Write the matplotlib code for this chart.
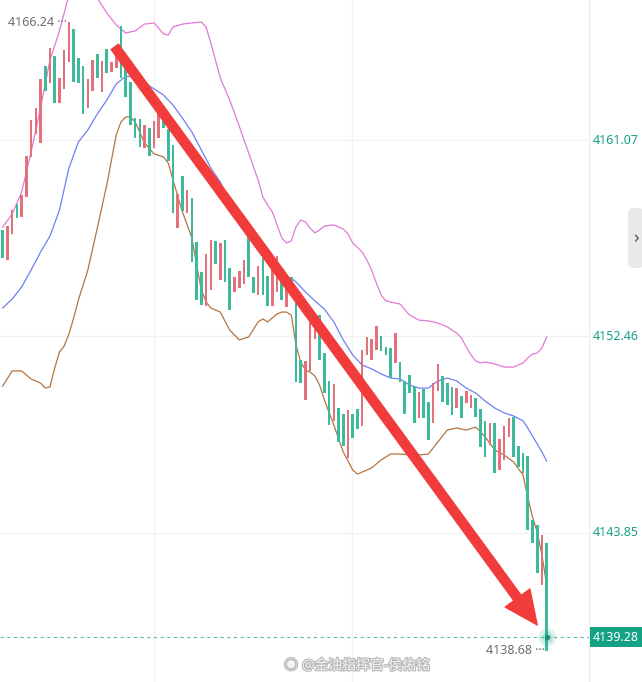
import numpy as np
import matplotlib
matplotlib.use("Agg")
import matplotlib.pyplot as plt
from matplotlib.patches import FancyArrowPatch, FancyBboxPatch
import matplotlib.patheffects as pe

plt.rcParams['font.family'] = ['Noto Sans', 'Noto Sans CJK SC', 'DejaVu Sans']

# ---- data ------------------------------------------------------------------
# candle tops / bottoms, one per bar
highs = [4157.13, 4157.30, 4158.00, 4158.27, 4158.66, 4160.37, 4161.95, 4162.47, 4163.74, 4164.31,
         4165.10, 4164.75, 4163.79, 4165.01, 4166.24, 4165.93, 4164.66, 4164.31, 4163.74, 4164.58,
         4164.84, 4164.53, 4165.06, 4164.49, 4165.15, 4166.07, 4164.58, 4163.61, 4162.03, 4161.99,
         4161.73, 4161.60, 4161.90, 4162.78, 4162.56, 4161.55, 4160.85, 4158.70, 4159.49, 4158.88,
         4158.53, 4156.60, 4155.29, 4156.08, 4156.69, 4156.64, 4156.56, 4156.69, 4155.46, 4155.07,
         4155.33, 4155.81, 4156.82, 4155.07, 4155.55, 4155.90, 4155.11, 4155.51, 4155.99, 4155.07,
         4155.07, 4155.07, 4154.19, 4151.43, 4151.39, 4153.10, 4152.92, 4153.40, 4151.74, 4150.51,
         4150.38, 4149.33, 4149.06, 4149.24, 4149.06, 4149.28, 4151.87, 4152.44, 4152.35, 4152.92,
         4152.48, 4152.00, 4151.96, 4152.61, 4151.34, 4150.51, 4150.77, 4150.25, 4150.03, 4150.16,
         4149.59, 4150.42, 4151.26, 4150.73, 4150.42, 4150.25, 4150.20, 4149.85, 4150.07, 4149.90,
         4149.77, 4149.28, 4148.76, 4148.67, 4148.67, 4147.97, 4148.54, 4148.89, 4148.93, 4147.66,
         4147.36, 4147.22, 4144.42, 4144.20, 4143.76, 4143.41]
lows = [4155.90, 4155.81, 4156.95, 4157.65, 4157.70, 4158.57, 4160.33, 4161.33, 4160.94, 4163.22,
        4163.57, 4162.69, 4162.69, 4163.31, 4164.49, 4163.61, 4163.57, 4162.21, 4162.47, 4163.22,
        4163.79, 4163.17, 4164.01, 4164.05, 4164.23, 4163.79, 4162.95, 4161.73, 4161.16, 4160.76,
        4160.72, 4160.37, 4160.72, 4161.16, 4161.60, 4160.15, 4157.87, 4157.21, 4157.96, 4157.87,
        4155.72, 4154.06, 4153.84, 4153.80, 4154.50, 4155.64, 4154.94, 4154.85, 4153.62, 4154.41,
        4154.59, 4154.76, 4155.07, 4154.37, 4154.28, 4154.28, 4153.80, 4153.80, 4154.41, 4154.06,
        4153.75, 4154.28, 4150.47, 4150.42, 4149.68, 4150.95, 4152.35, 4151.43, 4149.98, 4148.58,
        4148.76, 4147.84, 4147.66, 4147.14, 4148.01, 4148.41, 4148.54, 4151.65, 4151.43, 4151.87,
        4151.82, 4151.65, 4150.64, 4151.30, 4150.47, 4149.06, 4149.98, 4148.67, 4148.89, 4148.89,
        4147.92, 4148.67, 4150.07, 4149.59, 4149.46, 4149.02, 4149.33, 4148.89, 4149.55, 4149.33,
        4148.93, 4147.62, 4147.18, 4147.71, 4146.48, 4146.61, 4147.05, 4148.06, 4147.18, 4146.74,
        4146.48, 4143.98, 4143.41, 4142.10, 4141.57, 4138.68]
# R = rising (red), G = falling (green)
direction = ("GRRGRRRRRG" "RGRRRGGGRR" "GRGRRGGGGG" "RGRRGGGRGR" "GGGRRGRGGR"
             "RRGGRGGRRG" "RGGGRRRGGG" "RGGRGGRRRR" "GGGRGGGGRG" "GRRGGGRGRR"
             "GGGRGRRRGG" "GGGGRG")

# bollinger bands, sampled at bar numbers
upper_idx = [0, 2, 4, 6, 8, 10, 12, 14, 16, 18, 20, 22, 24, 26, 28, 30, 32, 34, 35, 36, 38, 40,
             42, 43, 44, 46, 48, 50, 52, 54, 55, 56, 57, 58, 59, 60, 61, 62, 63, 64, 65, 66, 67,
             68, 70, 72, 73, 74, 76, 77, 78, 79, 80, 81, 82, 84, 86, 88, 90, 92, 94, 96, 97, 98,
             99, 100, 101, 102, 104, 106, 108, 110, 111, 112, 113, 114, 115]
upper_val = [4157.26, 4157.83, 4158.79, 4160.54, 4162.47, 4164.58, 4165.85, 4167.42, 4168.30,
             4168.08, 4167.29, 4166.64, 4166.11, 4165.76, 4165.85, 4166.15, 4166.20, 4165.72,
             4165.67, 4166.02, 4166.15, 4166.20, 4166.24, 4166.02, 4165.32, 4163.79, 4162.82,
             4161.68, 4160.50, 4159.32, 4158.57, 4158.22, 4157.92, 4157.35, 4156.78, 4156.56,
             4156.64, 4157.26, 4157.56, 4157.48, 4157.21, 4157.00, 4157.13, 4157.30, 4157.35,
             4157.17, 4156.95, 4156.56, 4156.16, 4155.81, 4155.37, 4154.80, 4154.28, 4154.02,
             4153.97, 4153.88, 4153.40, 4153.18, 4153.14, 4153.05, 4152.88, 4152.61, 4152.39,
             4152.00, 4151.65, 4151.39, 4151.30, 4151.34, 4151.26, 4151.12, 4151.12, 4151.30,
             4151.52, 4151.69, 4151.74, 4151.96, 4152.44]

mid_idx = [0, 2, 4, 6, 8, 10, 12, 14, 16, 18, 20, 22, 24, 26, 28, 30, 32, 34, 36, 38, 40, 42,
           44, 46, 48, 50, 52, 54, 56, 58, 60, 61, 62, 64, 66, 68, 70, 72, 74, 76, 78, 80, 82,
           84, 86, 88, 90, 92, 94, 96, 98, 100, 102, 104, 106, 108, 110, 111, 112, 113, 114, 115]
mid_val = [4153.71, 4154.10, 4154.63, 4155.37, 4156.16, 4156.86, 4158.00, 4159.84, 4160.98,
           4161.51, 4162.21, 4162.82, 4163.52, 4163.87, 4163.83, 4163.57, 4163.31, 4163.04,
           4162.60, 4162.03, 4161.42, 4160.63, 4159.84, 4159.23, 4158.22, 4157.56, 4156.82,
           4156.34, 4155.72, 4155.37, 4155.07, 4155.02, 4154.85, 4154.41, 4154.02, 4153.66,
           4153.10, 4152.31, 4151.65, 4151.21, 4151.04, 4150.82, 4150.64, 4150.60, 4150.33,
           4150.20, 4150.20, 4150.51, 4150.64, 4150.51, 4150.20, 4149.98, 4149.63, 4149.33,
           4149.11, 4148.98, 4148.76, 4148.45, 4148.10, 4147.75, 4147.40, 4147.00]

lower_idx = [0, 2, 4, 6, 8, 9, 10, 11, 12, 13, 14, 15, 16, 18, 20, 22, 24, 25, 26, 27, 28, 30,
             32, 34, 35, 36, 38, 40, 41, 42, 43, 44, 46, 48, 50, 52, 54, 55, 56, 58, 59, 60, 61,
             62, 63, 64, 65, 66, 67, 68, 70, 72, 74, 75, 76, 78, 80, 82, 84, 86, 88, 90, 92, 94,
             96, 98, 100, 102, 104, 106, 108, 110, 111, 112, 113, 114, 115]
lower_val = [4150.29, 4150.95, 4150.95, 4150.60, 4150.42, 4150.20, 4150.25, 4151.08, 4151.78,
             4152.04, 4152.57, 4153.27, 4154.06, 4155.37, 4157.21, 4159.10, 4161.29, 4161.86,
             4162.08, 4162.08, 4161.86, 4160.94, 4160.46, 4160.33, 4160.06, 4159.32, 4157.92,
             4156.78, 4155.59, 4154.50, 4153.97, 4153.71, 4153.53, 4152.74, 4152.31, 4152.44,
             4153.10, 4153.23, 4153.10, 4153.45, 4153.53, 4153.53, 4153.40, 4152.09, 4151.34,
             4150.99, 4150.90, 4150.73, 4150.33, 4149.68, 4148.58, 4147.40, 4146.61, 4146.43,
             4146.52, 4146.70, 4147.05, 4147.31, 4147.31, 4147.27, 4147.27, 4147.31, 4147.84,
             4148.36, 4148.45, 4148.36, 4148.49, 4148.06, 4147.49, 4147.27, 4146.96, 4146.39,
             4145.43, 4144.55, 4143.89, 4142.89, 4141.57]

axis_ticks = [4161.07, 4152.46, 4143.85]
last_price = 4139.28
high_mark = 4166.24
low_mark = 4138.68
arrow_from = (23.7, 4165.15)
arrow_to = (113.0, 4139.82)
watermark = "@金油指挥官-侯佑铭"

UP_C = "#e3707a"
DOWN_C = "#3dba9c"
TEAL = "#17a085"

# ---- figure ------------------------------------------------------------------
fig = plt.figure(figsize=(6.42, 6.82), dpi=100)
ax = fig.add_axes([0, 0, 589 / 642, 1])
ax.set_xlim(-0.57, 123.95)
ax.set_ylim(4137.32, 4167.205)

for s in ["top", "left", "bottom"]:
    ax.spines[s].set_visible(False)
ax.spines["right"].set_color("#ececec")
ax.set_xticks([])
ax.set_yticks([])

# grid
for t in axis_ticks:
    ax.axhline(t, color="#f1f1f4", lw=1, zorder=0)
for gx in [32, 73.85]:
    ax.axvline(gx, color="#f3f3f5", lw=1, zorder=0)

# bands
ax.plot(upper_idx, upper_val, color="#e07ad6", lw=0.9, zorder=2)
ax.plot(mid_idx, mid_val, color="#6f80f2", lw=0.9, zorder=2)
ax.plot(lower_idx, lower_val, color="#b5743f", lw=0.9, zorder=2)

# candles
idx = np.arange(len(highs))
h = np.array(highs)
l = np.array(lows)
cols = [UP_C if d == "R" else DOWN_C for d in direction]
ax.bar(idx, h - l, bottom=l, width=0.55, color=cols, zorder=3)

# last price line and dot
ax.axhline(last_price, color=TEAL, lw=0.8, ls=(0, (3, 3)), alpha=0.7, zorder=1)
ax.scatter([idx[-1]], [last_price], s=160, color=TEAL, alpha=0.15, lw=0, zorder=5)
ax.scatter([idx[-1]], [last_price], s=60, color=TEAL, alpha=0.2, lw=0, zorder=5)
ax.scatter([idx[-1]], [last_price], s=14, color="#0f8f74", lw=0, zorder=6)

# high / low labels
ax.text(14 - 0.4, high_mark, f"{high_mark:.2f} \u00b7\u00b7\u00b7", ha="right", va="center",
        fontsize=9, color="#6d6d6d", zorder=4)
ax.text(115 - 0.4, low_mark, f"{low_mark:.2f} \u00b7\u00b7\u00b7", ha="right", va="center",
        fontsize=9, color="#6d6d6d", zorder=4)

# big red arrow
arr = FancyArrowPatch(arrow_from, arrow_to, arrowstyle="simple,head_width=22,head_length=24,tail_width=6.5",
                      mutation_scale=1, color="#f23b3b", shrinkA=0, shrinkB=0, zorder=7)
ax.add_patch(arr)

# right price axis
ytr = ax.get_yaxis_transform()
for t in axis_ticks:
    ax.text(1.007, t, f"{t:.2f}", transform=ytr, ha="left", va="center",
            fontsize=9, color=TEAL, clip_on=False)
ax.text(1.007, last_price, f"{last_price:.2f}", transform=ytr, ha="left", va="center",
        fontsize=9, color="white", fontweight="bold", clip_on=False,
        bbox=dict(boxstyle="square,pad=0.28", fc="#13a284", ec="none"))

# side chevron button
btn = FancyBboxPatch((628 / 642, (682 - 268) / 682), 16 / 642, 60 / 682,
                     boxstyle="round,pad=0,rounding_size=0.008", transform=fig.transFigure,
                     fc="#e9e9ec", ec="none")
fig.add_artist(btn)
fig.text(636 / 642, 1 - 238 / 682, "›", ha="center", va="center", fontsize=13, color="#555555")

# watermark
fig.text(302 / 642, 1 - 666 / 682, watermark, ha="left", va="center", fontsize=10,
         color="#f4f4f4", path_effects=[pe.withStroke(linewidth=1.6, foreground="#b8b8b8")])
fig.text(291 / 642, 1 - 666 / 682, "◉", ha="center", va="center", fontsize=10,
         color="#f4f4f4", path_effects=[pe.withStroke(linewidth=1.4, foreground="#b8b8b8")])

fig.savefig("out.png", dpi=100)
